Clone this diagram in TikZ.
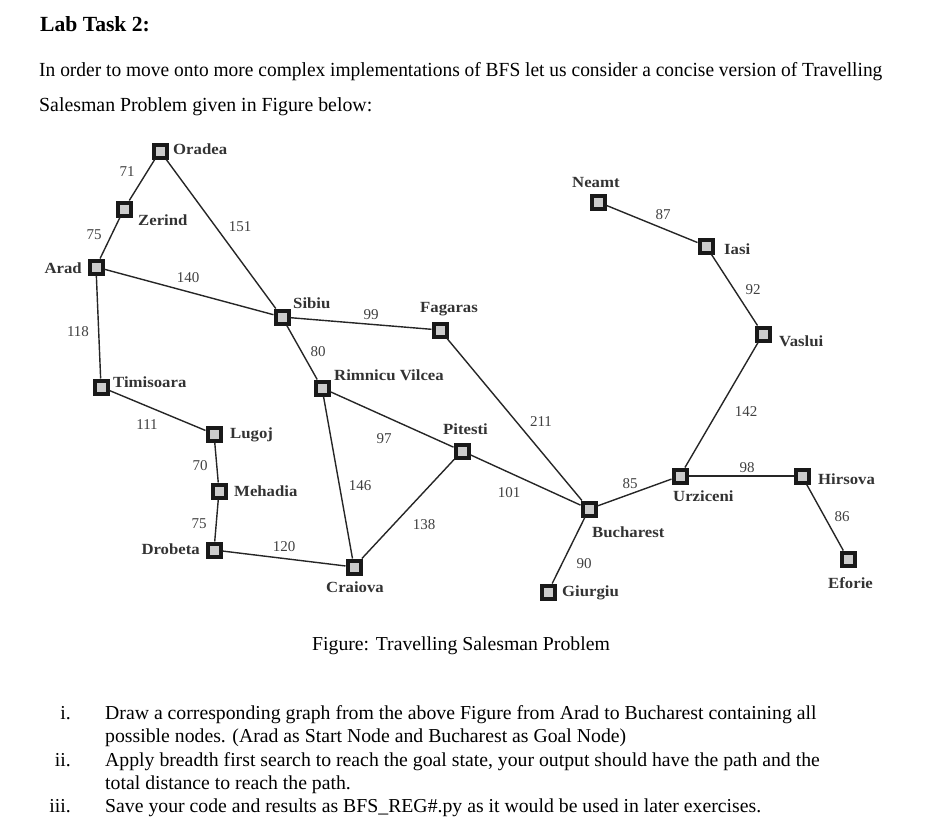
\documentclass[tikz,border=0pt]{standalone}
\usepackage{fontspec}
\setmainfont{Liberation Serif}
\newfontfamily\lineonefont[FakeStretch=0.972]{Liberation Serif}
\newfontfamily\linetwofont[FakeStretch=0.991]{Liberation Serif}
\newfontfamily\citynamefont[FakeStretch=1.08]{Liberation Serif}
\tikzset{
 x=1pt,y=-1pt,
 city/.style={draw=black!90,line width=4pt,fill=black!20,minimum size=13pt,inner sep=0,rectangle},
 road/.style={draw=black!85,line width=1.4pt},
 cityname/.style={font=\fontsize{15.5}{15.5}\citynamefont\bfseries,text=black!80,inner sep=0},
 distlabel/.style={font=\fontsize{15}{15}\selectfont,text=black!75,inner sep=0},
 paraone/.style={font=\fontsize{20}{22}\lineonefont,anchor=base west,inner sep=0},
 paratwo/.style={font=\fontsize{20}{22}\linetwofont,anchor=base west,inner sep=0},
 titletext/.style={font=\fontsize{21.6}{24}\selectfont\bfseries,anchor=base west,inner sep=0},
 itemtext/.style={font=\fontsize{19.75}{22}\selectfont,anchor=base west,inner sep=0},
 itemnum/.style={font=\fontsize{19.75}{22}\selectfont,anchor=base east,inner sep=0},
}
\begin{document}
\begin{tikzpicture}
\useasboundingbox (0,0) rectangle (932,827);
\node[titletext] (title) at (40,31) {Lab Task 2:};
\node[paraone] (l1) at (39,76) {In order to move onto more complex implementations of BFS let us consider a concise version of Travelling};
\node[paratwo] (l2) at (39,111) {Salesman Problem given in Figure below:};
% cities
\node[city] (oradea) at (160,151) {};
\node[city] (zerind) at (124,209) {};
\node[city] (arad) at (96,267) {};
\node[city] (timisoara) at (101,387) {};
\node[city] (sibiu) at (282,317) {};
\node[city] (rimnicu) at (322,388) {};
\node[city] (fagaras) at (440,330) {};
\node[city] (pitesti) at (462,451) {};
\node[city] (lugoj) at (214,434) {};
\node[city] (mehadia) at (219,491) {};
\node[city] (drobeta) at (214,550) {};
\node[city] (craiova) at (354,567) {};
\node[city] (bucharest) at (589,509) {};
\node[city] (giurgiu) at (548,592) {};
\node[city] (urziceni) at (680,476) {};
\node[city] (hirsova) at (802,476) {};
\node[city] (eforie) at (848,559) {};
\node[city] (vaslui) at (763,334) {};
\node[city] (iasi) at (706,246) {};
\node[city] (neamt) at (598,202) {};
% roads
\foreach \a/\b in {oradea/zerind,zerind/arad,arad/timisoara,arad/sibiu,oradea/sibiu,sibiu/fagaras,sibiu/rimnicu,timisoara/lugoj,lugoj/mehadia,mehadia/drobeta,drobeta/craiova,rimnicu/craiova,rimnicu/pitesti,pitesti/craiova,pitesti/bucharest,fagaras/bucharest,bucharest/giurgiu,bucharest/urziceni,urziceni/hirsova,hirsova/eforie,urziceni/vaslui,vaslui/iasi,iasi/neamt}
 \draw[road] (\a) -- (\b);
% city names
\node[cityname,anchor=west] (n1) at (173,149) {Oradea};
\node[cityname,anchor=west] (n2) at (138,220) {Zerind};
\node[cityname,anchor=east] (n3) at (82,268) {Arad};
\node[cityname,anchor=west] (n4) at (113,382) {Timisoara};
\node[cityname,anchor=west] (n5) at (293,303) {Sibiu};
\node[cityname,anchor=west] (n6) at (334,375) {Rimnicu Vilcea};
\node[cityname,anchor=west] (n7) at (420,309) {Fagaras};
\node[cityname,anchor=west] (n8) at (443,429) {Pitesti};
\node[cityname,anchor=west] (n9) at (230,435) {Lugoj};
\node[cityname,anchor=west] (n10) at (234,491) {Mehadia};
\node[cityname,anchor=east] (n11) at (200,549) {Drobeta};
\node[cityname,anchor=west] (n12) at (326,587) {Craiova};
\node[cityname,anchor=west] (n13) at (592,532) {Bucharest};
\node[cityname,anchor=west] (n14) at (562,593) {Giurgiu};
\node[cityname,anchor=west] (n15) at (673,496) {Urziceni};
\node[cityname,anchor=west] (n16) at (818,479) {Hirsova};
\node[cityname,anchor=west] (n17) at (828,583) {Eforie};
\node[cityname,anchor=west] (n18) at (779,341) {Vaslui};
\node[cityname,anchor=west] (n19) at (724,249) {Iasi};
\node[cityname,anchor=west] (n20) at (572,182) {Neamt};
% distances
\foreach \dt/\dx/\dy in {71/127/172,151/240/227,75/94/235,140/188/278,118/78/332,99/371/315,80/318/352,111/147/425,97/384/439,211/541/422,70/200/466,146/360/486,101/509/493,85/630/484,98/747/468,142/746/412,92/753/290,87/663/215,75/199/524,120/284/547,138/424/525,90/584/564,86/842/517}
 \node[distlabel] at (\dx,\dy) {\dt};
% caption
\node[font=\fontsize{19.75}{22}\selectfont,anchor=base,inner sep=0] (cap) at (461,650) {Figure: Travelling Salesman Problem};
% list
\node[itemnum] (i1) at (71,719) {i.};
\node[itemtext] (t1) at (105,719) {Draw a corresponding graph from the above Figure from Arad to Bucharest containing all};
\node[itemtext] (t1b) at (105,742) {possible nodes. (Arad as Start Node and Bucharest as Goal Node)};
\node[itemnum] (i2) at (71,766) {ii.};
\node[itemtext] (t2) at (105,766) {Apply breadth first search to reach the goal state, your output should have the path and the};
\node[itemtext] (t2b) at (105,789) {total distance to reach the path.};
\node[itemnum] (i3) at (71,812) {iii.};
\node[itemtext] (t3) at (105,812) {Save your code and results as BFS\_REG\#.py as it would be used in later exercises.};
\end{tikzpicture}
\end{document}
